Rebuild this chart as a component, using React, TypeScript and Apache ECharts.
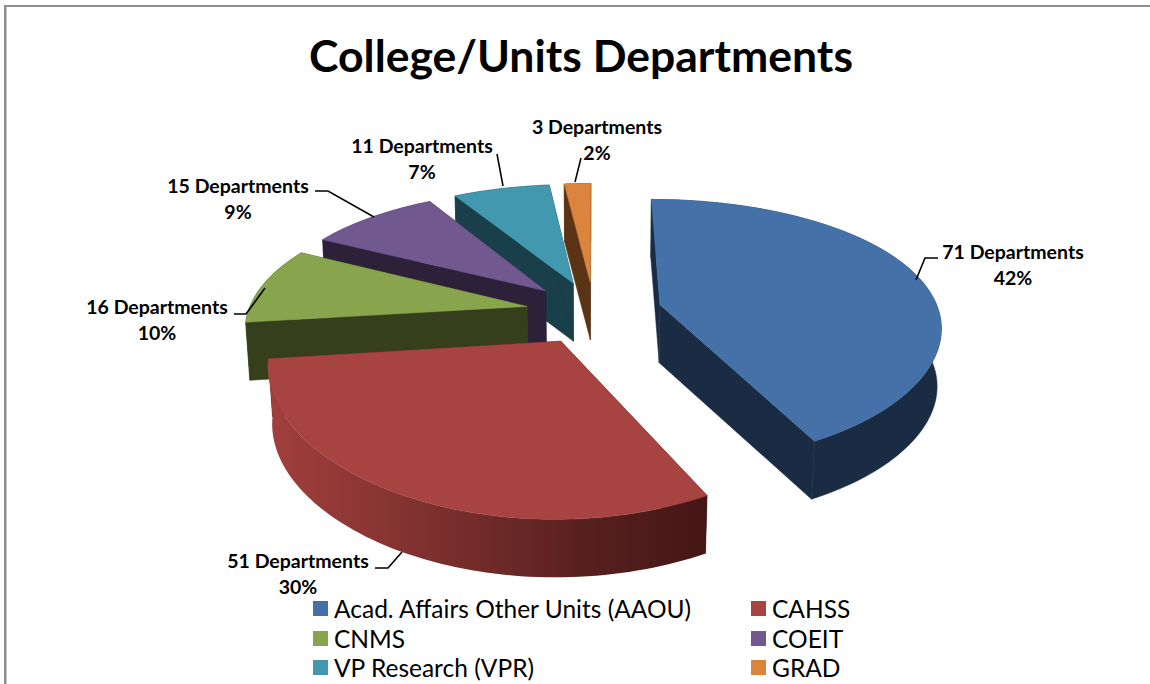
import React, { useEffect, useRef } from "react";
import * as echarts from "echarts";

const categories = ["Acad. Affairs Other Units (AAOU)", "CAHSS", "CNMS", "COEIT", "VP Research (VPR)", "GRAD"];
const departments = [71, 51, 16, 15, 11, 3];
const percents = [42, 30, 10, 9, 7, 2];
const topColors = ["#4472a8", "#a74442", "#88a54e", "#71588f", "#4198af", "#db843d"];
const wallColors = ["#1a2c44", "#431615", "#363f1c", "#2c2139", "#193f4a", "#5a3415"];
const drawOrder = [5, 4, 3, 2, 1, 0];

// projection
const CX = 594, CY = 312, RX = 279, RY = 129, DEPTH = 58, PERSP_Y = 0.2, PERSP_X = 0.15, SHRINK = 0.012, EXPLODE = 0.245;
const total = departments.reduce((a, b) => a + b, 0);

function project(u: number, v: number, z: number): number[] {
  const px = 1 / (1 - PERSP_X * v + SHRINK * z);
  const py = 1 / (1 - PERSP_Y * v);
  return [CX + RX * u * px, CY + RY * v * py + DEPTH * z];
}

function sliceRange(i: number) {
  let s = 0;
  for (let k = 0; k < i; k++) s += departments[k];
  const a0 = (s / total) * 2 * Math.PI;
  const a1 = ((s + departments[i]) / total) * 2 * Math.PI;
  return [a0, a1];
}

function renderSlice(i: number) {
  const [a0, a1] = sliceRange(i);
  const mid = (a0 + a1) / 2;
  const ou = EXPLODE * Math.sin(mid);
  const ov = -EXPLODE * Math.cos(mid);
  const steps = Math.max(8, Math.round((a1 - a0) * 40));
  const arc = (z: number) => {
    const pts: number[][] = [];
    for (let k = 0; k <= steps; k++) {
      const a = a0 + ((a1 - a0) * k) / steps;
      pts.push(project(ou + Math.sin(a), ov - Math.cos(a), z));
    }
    return pts;
  };
  const apexTop = project(ou, ov, 0);
  const apexBot = project(ou, ov, 1);
  const top = arc(0);
  const bot = arc(1);
  const wall = wallColors[i];
  const poly = (points: number[][], fill: any) => ({
    type: "polygon",
    shape: { points },
    style: { fill, stroke: fill instanceof Object ? undefined : fill, lineWidth: 0.5 },
    silent: true,
  });
  const outerFill =
    i === 1
      ? new echarts.graphic.LinearGradient(0, 0, 1, 0, [
          { offset: 0, color: "#a23f3d" },
          { offset: 0.35, color: "#7f312f" },
          { offset: 0.7, color: "#5a2120" },
          { offset: 1, color: "#431615" },
        ])
      : wall;
  return {
    type: "group",
    children: [
      poly([apexTop, top[0], bot[0], apexBot], wall),
      poly([apexTop, top[steps], bot[steps], apexBot], wall),
      poly([...top, ...bot.slice().reverse()], outerFill),
      poly([apexTop, ...top], topColors[i]),
    ],
  };
}

const labelCenters = [[1013, 251], [298, 560], [157, 306], [238, 185], [422, 145], [597, 126]];
const leaders = [
  [[916, 280], [925, 258], [938, 258]],
  [[375, 568], [388, 568], [402, 552]],
  [[234, 314], [246, 314], [265, 288]],
  [[315, 191], [328, 191], [374, 217]],
  [[497, 154], [503, 186]],
  [[581, 158], [575, 182]],
];
const legendLeft = [313, 751];
const legendRowTop = [596, 626, 655];

const FONT = "Lato, 'Open Sans', sans-serif";

export default function App() {
  const ref = useRef<HTMLDivElement>(null);
  useEffect(() => {
    document.body.style.margin = "0";
    const chart = echarts.init(ref.current!, null, { renderer: "svg" });
    const labelEls: any[] = [];
    categories.forEach((_, i) => {
      labelEls.push({
        type: "polyline",
        silent: true,
        z: 20,
        shape: { points: leaders[i] },
        style: { stroke: "#000", lineWidth: 1.6, fill: "none" },
      });
      labelEls.push({
        type: "text",
        silent: true,
        z: 20,
        x: labelCenters[i][0],
        y: labelCenters[i][1] - 13,
        style: {
          text: `${departments[i]} Departments\n${percents[i]}%`,
          fill: "#000",
          font: `bold 19.5px ${FONT}`,
          lineHeight: 26,
          align: "center",
          verticalAlign: "top",
        },
      });
    });
    chart.setOption({
      animation: false,
      backgroundColor: "#fff",
      title: {
        text: "College/Units Departments",
        left: 576,
        top: 27,
        textAlign: "center",
        textStyle: { fontFamily: FONT, fontWeight: "bold", fontSize: 44.5, color: "#000" },
      },
      legend: categories.map((c, i) => ({
        orient: "horizontal",
        left: legendLeft[i % 2],
        top: legendRowTop[Math.floor(i / 2)],
        padding: 0,
        itemWidth: 15,
        itemHeight: 15,
        itemGap: 5,
        icon: "rect",
        selectedMode: false,
        data: [c],
        textStyle: { fontFamily: FONT, fontSize: 24.5, color: "#000", padding: [0, 0, 0, 1] },
      })),
      graphic: [
        { type: "rect", silent: true, shape: { x: 4, y: 5, width: 1146, height: 2 }, style: { fill: "#8e8e8e" } },
        { type: "rect", silent: true, shape: { x: 4, y: 5, width: 2.5, height: 679 }, style: { fill: "#8e8e8e" } },
        ...labelEls,
      ],
      series: drawOrder.map((i, order) => ({
        type: "custom",
        name: categories[i],
        coordinateSystem: "none",
        z: 2 + order,
        silent: true,
        itemStyle: { color: topColors[i] },
        data: [departments[i]],
        renderItem: () => renderSlice(i),
      })),
    });
    return () => chart.dispose();
  }, []);
  return <div ref={ref} style={{ width: 1150, height: 684, overflow: "hidden" }} />;
}
